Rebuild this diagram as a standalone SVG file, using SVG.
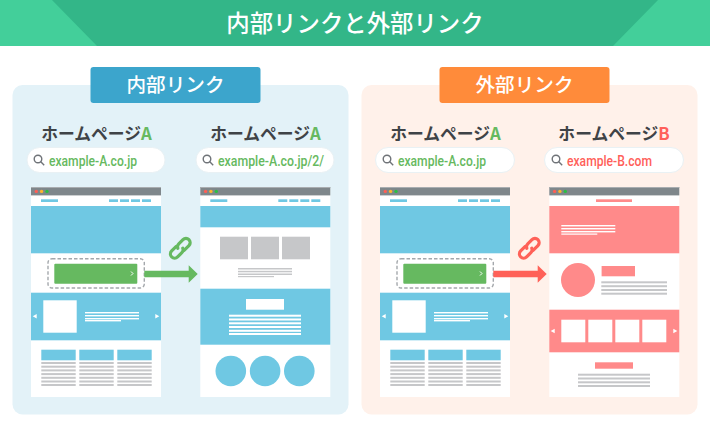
<svg xmlns="http://www.w3.org/2000/svg" width="710" height="430" viewBox="0 0 710 430">
<style>
.jp{font-family:"Noto Sans CJK JP","Noto Sans",sans-serif;font-weight:500;text-anchor:middle}
.ttl{fill:#fff;font-size:23.4px}
.lbl{fill:#fff;font-size:19.6px}
.hp{fill:#3f4347;font-size:16.8px;font-weight:700}
.url{font-family:Roboto,"Liberation Sans",sans-serif;font-size:15.5px;font-weight:500}
.g{fill:#66b960}.r{fill:#ff5f5a}
.b{fill:#6fc8e3}.w{fill:#fff}.rd{fill:#ff8a8a}.gy{fill:#c6c7c9}
.pill{fill:#fff;stroke:#e9f1f4;stroke-width:1}
</style>
<defs>
<g id="shell">
<rect x="0" y="0" width="130" height="210" fill="#fff"/>
<rect x="0" y="0" width="130" height="8.4" fill="#7f878b"/>
<rect x="0" y="0" width="130" height="1" fill="#a9adb0"/>
<circle cx="5.3" cy="4.4" r="1.7" fill="#ff5f56"/><circle cx="10.6" cy="4.4" r="1.7" fill="#fdb52e"/><circle cx="16" cy="4.4" r="1.7" fill="#2bbf43"/>
</g>
<g id="nav" class="b">
<rect x="10" y="12.3" width="17" height="2.7"/>
<rect x="78" y="12.3" width="9" height="2.7"/><rect x="89" y="12.3" width="9" height="2.7"/><rect x="100" y="12.3" width="9" height="2.7"/><rect x="111" y="12.3" width="9" height="2.7"/>
</g>
<g id="lines54w" class="w">
<rect width="54" height="1.4"/><rect y="3" width="54" height="1.4"/><rect y="6" width="54" height="1.4"/><rect y="8" width="36" height="1.4"/>
</g>
<g id="colLines" class="gy">
<rect y="0" width="34.4" height="2"/><rect y="3.7" width="34.4" height="2"/><rect y="7.4" width="34.4" height="2"/><rect y="11.1" width="34.4" height="2"/><rect y="14.8" width="34.4" height="2"/><rect y="18.5" width="34.4" height="2"/><rect y="22" width="34.4" height="2"/>
</g>
<g id="pageA">
<use href="#shell"/>
<use href="#nav"/>
<rect class="b" x="0" y="19" width="130" height="47.3"/>
<rect x="23.3" y="76.7" width="83" height="20" rx="1" fill="#66b960"/>
<path d="M100 84.5l2 2-2 2" fill="none" stroke="#fff" stroke-width="1"/>
<rect x="17" y="71.7" width="96.3" height="29.3" rx="4" fill="none" stroke="#a4a8ac" stroke-width="1.4" stroke-dasharray="3.5 2"/>
<rect class="b" x="0" y="105.7" width="130" height="47.6"/>
<rect class="w" x="12.3" y="113.3" width="33.4" height="32.4"/>
<use href="#lines54w" x="54" y="125"/>
<path class="w" d="M1.7 129.3l4-2.300v4.600zM128.300 129.300l-4-2.300v4.600z"/>
<rect class="b" x="10.3" y="162.700" width="34.4" height="10.600"/><rect class="b" x="48.300" y="162.700" width="34.4" height="10.600"/><rect class="b" x="86.300" y="162.700" width="34.4" height="10.600"/>
<use href="#colLines" x="10.300" y="175"/><use href="#colLines" x="48.300" y="175"/><use href="#colLines" x="86.300" y="175"/>
</g>
<g id="mag" fill="none" stroke="#6f7378" stroke-width="1.400">
<circle cx="-1" cy="-1" r="3.800"/><path d="M1.800 1.800l3.400 3.400"/>
</g>
<g id="chain" fill="none" stroke-width="3.200" stroke-linecap="round">
<g transform="rotate(-45)">
<path d="M-1.500 -4.200H-8a4.200 4.200 0 0 0 0 8.400h6a4.200 4.200 0 0 0 3.800-2.500"/>
<path d="M1.500 4.200H8a4.200 4.200 0 0 0 0-8.400H2a4.200 4.200 0 0 0-3.800 2.500"/>
</g>
</g>
</defs>
<rect width="710" height="430" fill="#fff"/>
<g id="header">
<rect width="710" height="46" fill="#33b688"/>
<path d="M0 0H52L97 46H0zM710 0H658L613 46H710z" fill="#43cf9a"/>
<text class="jp ttl" x="355" y="32">内部リンクと外部リンク</text>
</g>
<g id="panel-internal">
<rect x="12.500" y="85" width="336" height="329.500" rx="10" fill="#e3f2f8"/>
<rect x="90.500" y="67" width="170" height="36" rx="3" fill="#3ca5cc"/>
<text class="jp lbl" x="175.500" y="92">内部リンク</text>
</g>
<g id="panel-external">
<rect x="361.500" y="85" width="336" height="329.500" rx="10" fill="#fff1ea"/>
<rect x="439.500" y="67" width="170" height="36" rx="3" fill="#ff8b3a"/>
<text class="jp lbl" x="524.500" y="92">外部リンク</text>
</g>
<g id="home-a1">
<text class="jp hp" x="96.500" y="139.500">ホームページ<tspan fill="#66b960">A</tspan></text>
<rect class="pill" x="27" y="147.500" width="138" height="25" rx="12.500"/>
<use href="#mag" x="39" y="160"/>
<text class="url g" x="49" y="165.500" textLength="88" lengthAdjust="spacingAndGlyphs">example-A.co.jp</text>
<use href="#pageA" x="31" y="187"/>
</g>
<g id="home-a2">
<text class="jp hp" x="265.500" y="139.500">ホームページ<tspan fill="#66b960">A</tspan></text>
<rect class="pill" x="196" y="147.500" width="138" height="25" rx="12.500"/>
<use href="#mag" x="208" y="160"/>
<text class="url g" x="218" y="165.500" textLength="106" lengthAdjust="spacingAndGlyphs">example-A.co.jp/2/</text>
<g transform="translate(200.300 187)">
<use href="#shell"/><use href="#nav"/>
<rect class="b" y="19" width="130" height="21.300"/>
<rect class="gy" x="19.700" y="49.700" width="28" height="22.600"/><rect class="gy" x="50.700" y="49.700" width="28" height="22.600"/><rect class="gy" x="81.700" y="49.700" width="28" height="22.600"/>
<g class="gy"><rect x="37.700" y="81" width="54" height="1.500"/><rect x="37.700" y="83.800" width="54" height="1.500"/><rect x="37.700" y="86.500" width="54" height="1.500"/><rect x="37.700" y="89" width="36" height="1.200"/></g>
<rect class="b" y="101.700" width="130" height="56"/>
<rect class="w" x="45.700" y="112" width="38" height="10.700"/>
<g class="w"><rect x="28.700" y="127.700" width="72" height="2"/><rect x="28.700" y="131.500" width="72" height="2"/><rect x="28.700" y="135.300" width="72" height="2"/><rect x="28.700" y="139" width="72" height="2"/><rect x="28.700" y="142.800" width="72" height="2"/><rect x="28.700" y="146" width="72" height="2"/></g>
<circle class="b" cx="30.500" cy="184" r="15.300"/><circle class="b" cx="64.800" cy="184" r="15.300"/><circle class="b" cx="99" cy="184" r="15.300"/>
</g>
</g>
<g id="home-a3">
<text class="jp hp" x="445.500" y="139.500">ホームページ<tspan fill="#66b960">A</tspan></text>
<rect class="pill" x="375.500" y="147.500" width="139" height="25" rx="12.500"/>
<use href="#mag" x="388" y="160"/>
<text class="url g" x="398" y="165.500" textLength="88" lengthAdjust="spacingAndGlyphs">example-A.co.jp</text>
<use href="#pageA" x="380" y="187"/>
</g>
<g id="home-b">
<text class="jp hp" x="614" y="139.500">ホームページ<tspan fill="#ff5f5a">B</tspan></text>
<rect class="pill" x="544.500" y="147.500" width="139" height="25" rx="12.500"/>
<use href="#mag" x="557" y="160"/>
<text class="url r" x="567" y="165.500" textLength="85" lengthAdjust="spacingAndGlyphs">example-B.com</text>
<g transform="translate(549.300 187)">
<use href="#shell"/>
<rect class="rd" x="46.700" y="12.300" width="36" height="2.700"/>
<rect class="rd" y="19" width="130" height="47.300"/>
<g class="w"><rect x="12" y="38" width="54" height="1.400"/><rect x="12" y="41" width="54" height="1.400"/><rect x="12" y="44" width="54" height="1.400"/><rect x="12" y="46.500" width="36" height="1.200"/></g>
<circle class="rd" cx="28.700" cy="93" r="17"/>
<rect class="rd" x="52.300" y="79" width="33.400" height="10.300"/>
<g class="gy"><rect x="52" y="94.300" width="65.700" height="2"/><rect x="52" y="98.200" width="65.700" height="2"/><rect x="52" y="102" width="65.700" height="2"/><rect x="52" y="105.700" width="65.700" height="2"/></g>
<rect class="rd" y="122.700" width="130" height="42.600"/>
<g class="w"><rect x="12" y="132.700" width="24" height="22.600"/><rect x="39" y="132.700" width="24" height="22.600"/><rect x="66" y="132.700" width="24" height="22.600"/><rect x="93" y="132.700" width="24" height="22.600"/></g>
<path class="w" d="M1.400 144l4-2.300v4.600zM128 144l-4-2.300v4.600z"/>
<rect class="rd" x="45.700" y="175.300" width="38" height="6.400"/>
<g class="gy"><rect x="28.700" y="186.700" width="72" height="2"/><rect x="28.700" y="190.500" width="72" height="2"/><rect x="28.700" y="194.300" width="72" height="2"/><rect x="28.700" y="198" width="72" height="2"/></g>
</g>
</g>
<g id="connectors">
<path d="M144.300 270.700H188.700V265.300L197.700 274 188.700 282.700V277.300H144.300z" fill="#66b960"/>
<use href="#chain" x="180.300" y="248.300" stroke="#66b960"/>
<path d="M493.300 270.700H537.700V265.300L546.700 274 537.700 282.700V277.300H493.300z" fill="#ff6158"/>
<use href="#chain" x="529.300" y="248.300" stroke="#ff6158"/>
</g>
</svg>
